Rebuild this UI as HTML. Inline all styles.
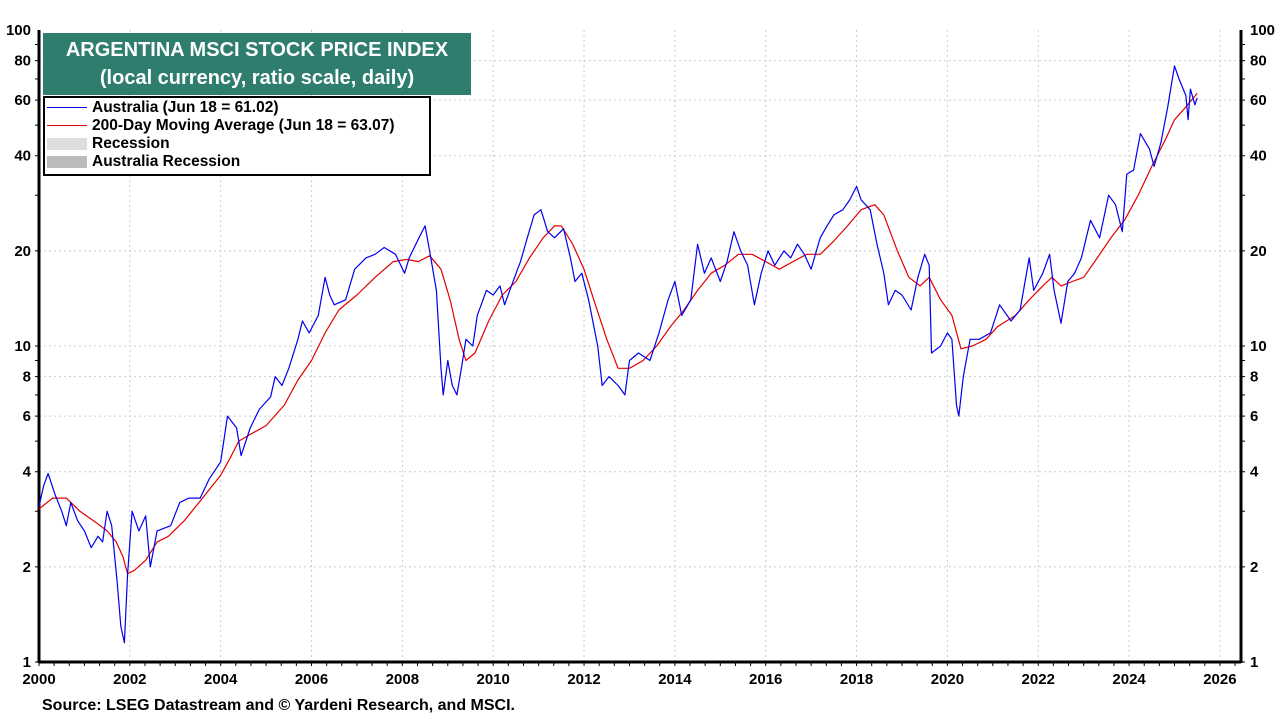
<!DOCTYPE html>
<html><head><meta charset="utf-8"><style>
body{margin:0;background:#fff;width:1280px;height:720px;overflow:hidden;font-family:"Liberation Sans",Arial,sans-serif}
svg text{font-family:"Liberation Sans",Arial,sans-serif;font-weight:bold}
</style></head><body>
<svg id="c" width="1280" height="720"></svg>
<script>
const blueYears=[2000.0,2000.1,2000.2,2000.35,2000.5,2000.6,2000.7,2000.85,2001.0,2001.15,2001.3,2001.4,2001.5,2001.6,2001.72,2001.8,2001.88,2001.95,2002.05,2002.2,2002.35,2002.45,2002.6,2002.9,2003.1,2003.3,2003.55,2003.75,2004.0,2004.15,2004.35,2004.45,2004.65,2004.85,2005.1,2005.2,2005.35,2005.5,2005.7,2005.8,2005.95,2006.15,2006.3,2006.4,2006.5,2006.75,2006.95,2007.2,2007.4,2007.6,2007.85,2008.05,2008.15,2008.4,2008.5,2008.6,2008.75,2008.85,2008.9,2009.0,2009.1,2009.2,2009.3,2009.4,2009.55,2009.65,2009.85,2010.0,2010.15,2010.25,2010.4,2010.6,2010.75,2010.9,2011.05,2011.2,2011.35,2011.55,2011.7,2011.8,2011.95,2012.1,2012.3,2012.4,2012.55,2012.75,2012.9,2013.0,2013.2,2013.45,2013.65,2013.85,2014.0,2014.15,2014.35,2014.5,2014.65,2014.8,2015.0,2015.15,2015.3,2015.45,2015.6,2015.75,2015.9,2016.05,2016.2,2016.4,2016.55,2016.7,2016.85,2017.0,2017.2,2017.35,2017.5,2017.7,2017.85,2018.0,2018.1,2018.3,2018.45,2018.6,2018.7,2018.85,2019.0,2019.2,2019.35,2019.5,2019.6,2019.65,2019.85,2020.0,2020.1,2020.2,2020.25,2020.35,2020.5,2020.7,2020.95,2021.15,2021.4,2021.6,2021.8,2021.9,2022.1,2022.25,2022.35,2022.5,2022.65,2022.8,2022.95,2023.15,2023.35,2023.55,2023.7,2023.85,2023.95,2024.1,2024.25,2024.45,2024.55,2024.7,2024.85,2025.0,2025.1,2025.25,2025.3,2025.35,2025.45,2025.5];
const blueValues=[3.1,3.6,3.95,3.4,3.0,2.7,3.2,2.8,2.6,2.3,2.5,2.4,3.0,2.7,1.8,1.3,1.15,1.9,3.0,2.6,2.9,2.0,2.6,2.7,3.2,3.3,3.3,3.8,4.3,6.0,5.5,4.5,5.5,6.3,6.9,8.0,7.5,8.5,10.5,12.0,11.0,12.5,16.5,14.5,13.5,14.0,17.5,19.0,19.5,20.5,19.5,17.0,19.0,22.5,24.0,20.0,15.0,8.5,7.0,9.0,7.5,7.0,8.5,10.5,10.0,12.5,15.0,14.5,15.5,13.5,15.5,18.5,22.0,26.0,27.0,23.0,22.0,23.5,19.0,16.0,17.0,14.0,10.0,7.5,8.0,7.5,7.0,9.0,9.5,9.0,11.0,14.0,16.0,12.5,14.0,21.0,17.0,19.0,16.0,18.5,23.0,20.0,18.0,13.5,17.0,20.0,18.0,20.0,19.0,21.0,19.5,17.5,22.0,24.0,26.0,27.0,29.0,32.0,29.0,27.0,21.0,17.0,13.5,15.0,14.5,13.0,16.5,19.5,18.0,9.5,10.0,11.0,10.5,6.5,6.0,8.0,10.5,10.5,11.0,13.5,12.0,13.0,19.0,15.0,17.0,19.5,15.0,11.8,16.0,17.0,19.0,25.0,22.0,30.0,28.0,23.0,35.0,36.0,47.0,42.0,37.0,44.0,57.0,77.0,70.0,62.0,52.0,65.0,58.0,61.0];
const maYears=[2000.0,2000.3,2000.6,2000.9,2001.2,2001.5,2001.7,2001.85,2001.95,2002.1,2002.35,2002.6,2002.85,2003.2,2003.6,2004.0,2004.2,2004.4,2004.7,2005.0,2005.4,2005.7,2006.0,2006.3,2006.6,2007.0,2007.4,2007.8,2008.1,2008.35,2008.6,2008.85,2009.05,2009.25,2009.4,2009.6,2009.9,2010.2,2010.5,2010.8,2011.1,2011.35,2011.5,2011.75,2012.0,2012.25,2012.5,2012.75,2013.0,2013.3,2013.6,2013.9,2014.2,2014.5,2014.8,2015.1,2015.4,2015.7,2016.0,2016.3,2016.6,2016.9,2017.2,2017.5,2017.8,2018.1,2018.4,2018.6,2018.9,2019.15,2019.4,2019.6,2019.85,2020.1,2020.3,2020.55,2020.85,2021.1,2021.5,2021.8,2022.1,2022.3,2022.5,2022.75,2023.0,2023.3,2023.6,2023.9,2024.2,2024.5,2024.8,2025.0,2025.2,2025.5];
const maValues=[3.05,3.3,3.3,3.0,2.8,2.6,2.4,2.15,1.9,1.95,2.1,2.4,2.5,2.8,3.3,3.9,4.4,5.0,5.3,5.6,6.5,7.8,9.0,11.0,13.0,14.5,16.5,18.5,18.8,18.5,19.3,17.5,14.0,10.5,9.0,9.5,12.0,14.5,16.0,19.0,22.0,24.0,24.0,21.0,17.5,13.5,10.5,8.5,8.5,9.0,10.0,11.5,13.0,15.0,17.0,18.0,19.5,19.5,18.5,17.5,18.5,19.5,19.5,21.5,24.0,27.0,28.0,26.0,20.0,16.5,15.5,16.5,14.0,12.5,9.8,10.0,10.5,11.5,12.5,14.0,15.5,16.5,15.5,16.0,16.5,19.0,22.0,25.0,30.0,37.0,45.0,52.0,56.0,63.0];
const yTicks=[1,2,4,6,8,10,20,40,60,80,100];
const xTicks=[2000,2002,2004,2006,2008,2010,2012,2014,2016,2018,2020,2022,2024,2026];

const L=39,R=1241,T=30,B=662;
const X=y=>39+(y-2000)*45.42;
const Y=v=>T+(2-Math.log10(v))*316;
const svg=document.getElementById('c');
const NS='http://www.w3.org/2000/svg';
function mk(tag,attrs,parent){const e=document.createElementNS(NS,tag);for(const k in attrs)e.setAttribute(k,attrs[k]);(parent||svg).appendChild(e);return e;}

const grid=mk('g',{});


yTicks.forEach(v=>{if(v>1&&v<100)mk('line',{x1:L,x2:R,y1:Y(v),y2:Y(v),stroke:'#ccc','stroke-dasharray':'2,3'},grid);});
xTicks.forEach(t=>{if(t>2000)mk('line',{x1:X(t),x2:X(t),y1:T,y2:B,stroke:'#ccc','stroke-dasharray':'2,3'},grid);});

const ax=mk('g',{});


for(let d=0;d<2;d++)for(let m=1;m<10;m++){const v=m*Math.pow(10,d);const y=Y(v);
 mk('line',{x1:L-4,x2:L,y1:y,y2:y,stroke:'#000'},ax);mk('line',{x1:R,x2:R+4,y1:y,y2:y,stroke:'#000'},ax);}
for(let yr=2000;yr<=2026.4;yr+=1/3){const x=X(yr);mk('line',{x1:x,x2:x,y1:B,y2:B+4,stroke:'#000'},ax);}
mk('line',{x1:L,x2:L,y1:T,y2:B+1,stroke:'#000','stroke-width':3},ax);
mk('line',{x1:R,x2:R,y1:T,y2:B+1,stroke:'#000','stroke-width':3},ax);
mk('line',{x1:L,x2:R,y1:B,y2:B,stroke:'#000','stroke-width':3},ax);
yTicks.forEach(v=>{
 const t1=mk('text',{x:L-8,y:Y(v)+5,'text-anchor':'end','font-size':15},ax);t1.textContent=v;
 
 
 const t2=mk('text',{x:R+9,y:Y(v)+5,'font-size':15},ax);t2.textContent=v;
 
 
});
xTicks.forEach(t=>{const e=mk('text',{x:X(t),y:684,'text-anchor':'middle','font-size':15},ax);e.textContent=t;
 
 });

function line(xs,vs,color,name){const d=xs.map((x,i)=>(i?'L':'M')+X(x).toFixed(1)+','+Y(vs[i]).toFixed(1)).join('');
 const p=mk('path',{d:d,fill:'none',stroke:color,'stroke-width':1.2,'stroke-linejoin':'round'});
 
 }
line(maYears,maValues,'#e00000','moving-average-line');
line(blueYears,blueValues,'#0000ee','index-line');
</script>
<div style="position:absolute;left:43px;top:33px;width:428px;height:62px;background:#2e7d6e;color:#fff;font-weight:bold;font-size:20px;line-height:28px;text-align:center;padding-top:3px;box-sizing:border-box">ARGENTINA MSCI STOCK PRICE INDEX<br>(local currency, ratio scale, daily)</div>
<div style="position:absolute;left:43px;top:96px;width:388px;height:80px;border:2px solid #000;box-sizing:border-box;background:#fff;font-weight:bold;font-size:15.5px;line-height:18px;padding-top:1px;white-space:nowrap">
<div><span style="display:inline-block;width:40px;height:1px;background:#0000ee;vertical-align:middle;margin:0 5px 0 2px"></span>Australia (Jun 18 = 61.02)</div>
<div><span style="display:inline-block;width:40px;height:1px;background:#e00000;vertical-align:middle;margin:0 5px 0 2px"></span>200-Day Moving Average (Jun 18 = 63.07)</div>
<div><span style="display:inline-block;width:40px;height:12px;background:#ddd;vertical-align:middle;margin:0 5px 0 2px"></span>Recession</div>
<div><span style="display:inline-block;width:40px;height:12px;background:#bbb;vertical-align:middle;margin:0 5px 0 2px"></span>Australia Recession</div>
</div>
<div style="position:absolute;left:42px;top:697px;font-size:16px;font-weight:bold">Source: LSEG Datastream and © Yardeni Research, and MSCI.</div>
</body></html>
